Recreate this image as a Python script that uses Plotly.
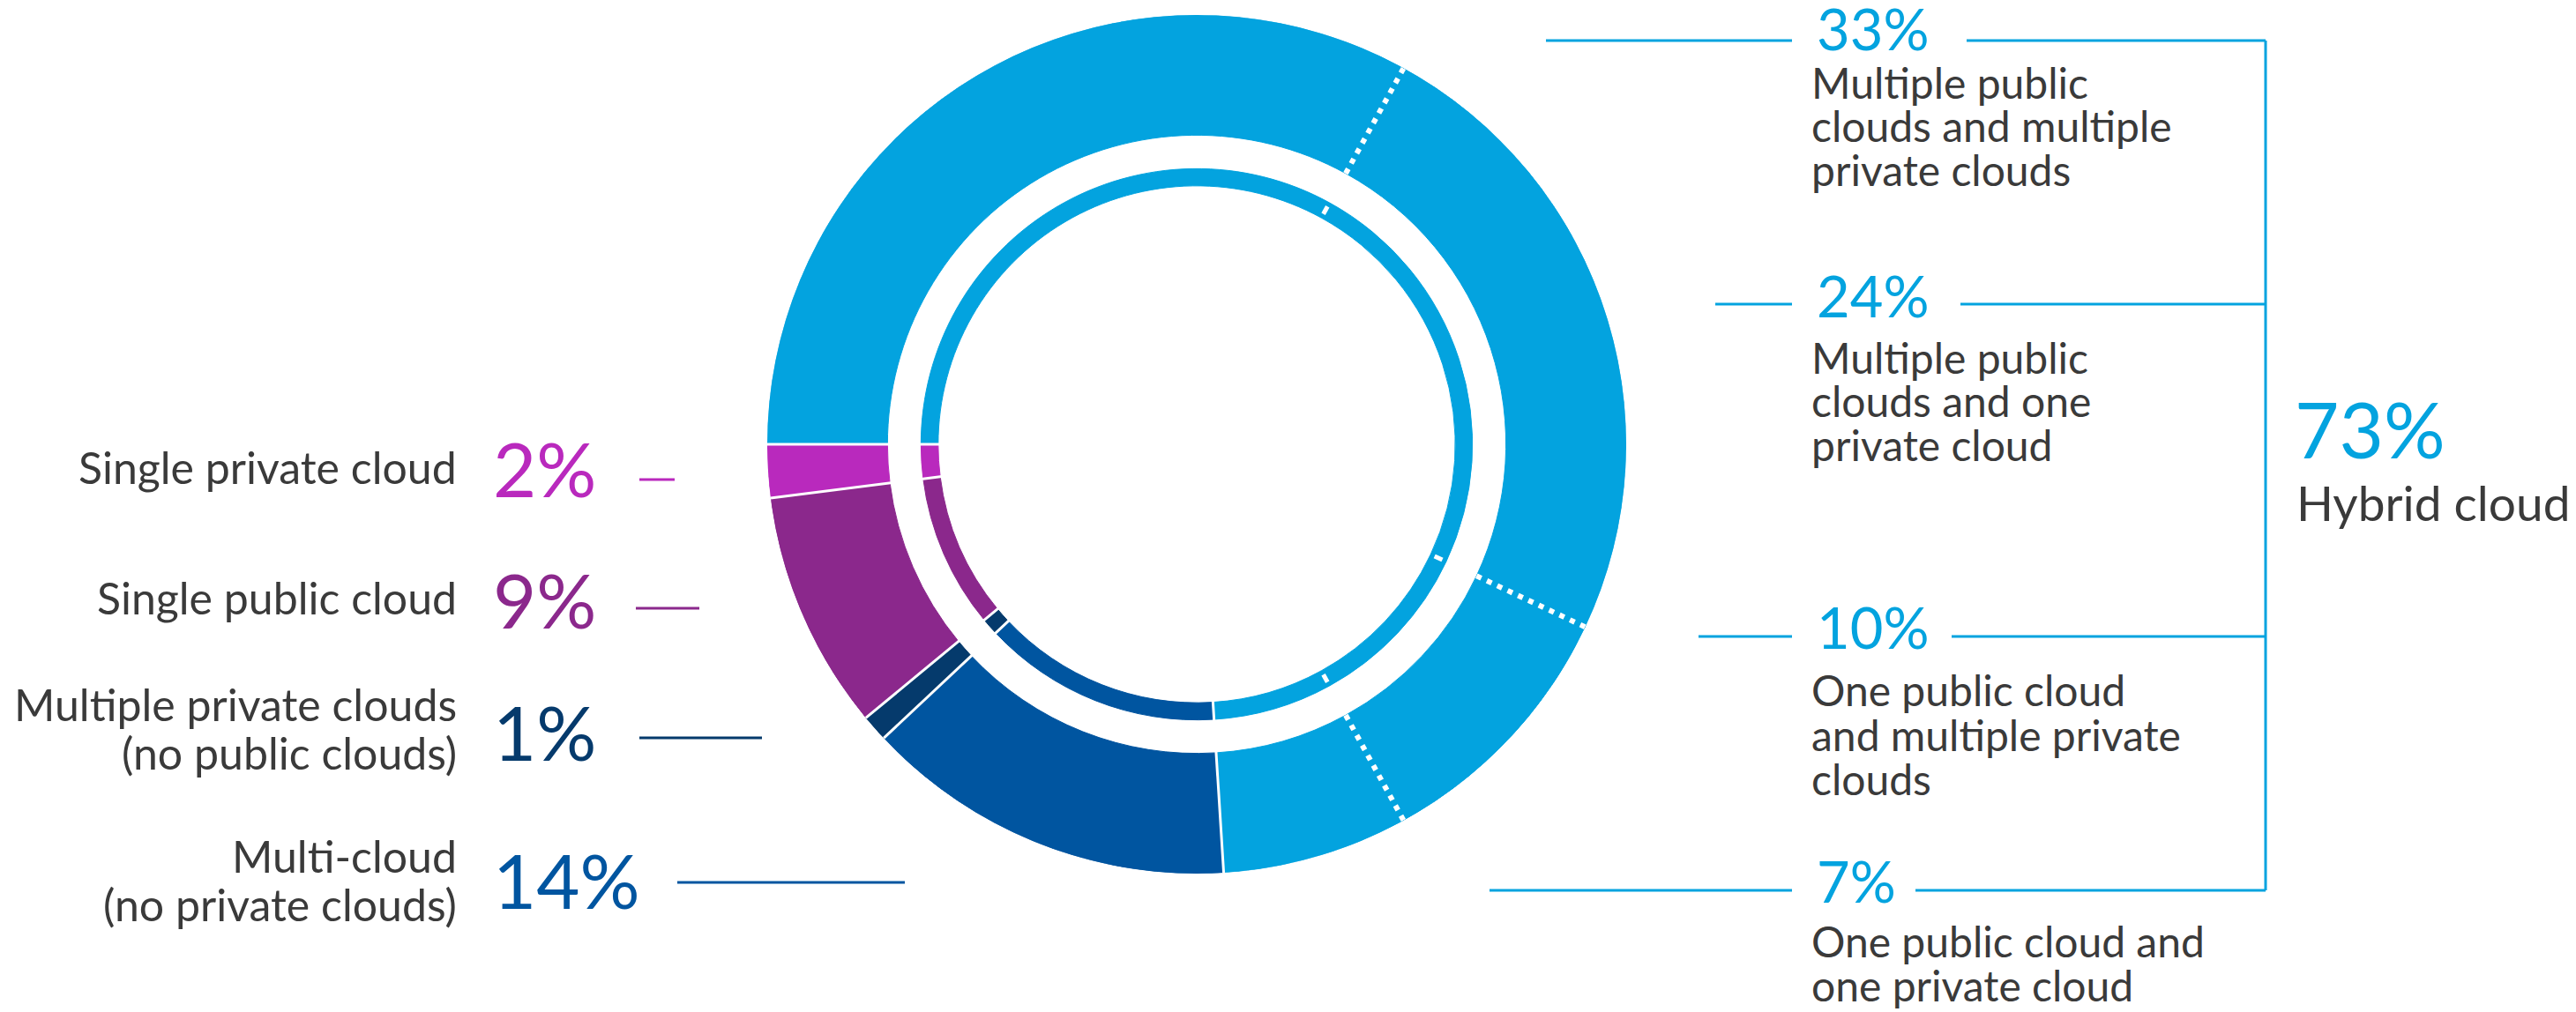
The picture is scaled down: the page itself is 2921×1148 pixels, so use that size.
import plotly.graph_objects as go

W, H = 2921, 1148

# slices clockwise from 9 o'clock
categories = [
    "Multiple public clouds and multiple private clouds",
    "Multiple public clouds and one private cloud",
    "One public cloud and multiple private clouds",
    "One public cloud and one private cloud",
    "Multi-cloud (no private clouds)",
    "Multiple private clouds (no public clouds)",
    "Single public cloud",
    "Single private cloud",
]
values = [33, 24, 10, 7, 14, 1, 9, 2]
colors = ["#03a3df", "#03a3df", "#03a3df", "#03a3df",
          "#0055a0", "#053a6c", "#8b288c", "#b929bd"]
hybrid = [True, True, True, True, False, False, False, False]

hybrid_total = "73%"
hybrid_label = "Hybrid cloud"

right_lines = [
    ["Multiple public", "clouds and multiple", "private clouds"],
    ["Multiple public", "clouds and one", "private cloud"],
    ["One public cloud", "and multiple private", "clouds"],
    ["One public cloud and", "one private cloud"],
]
left_lines = {
    "Single private cloud": ["Single private cloud"],
    "Single public cloud": ["Single public cloud"],
    "Multiple private clouds (no public clouds)": ["Multiple private clouds", "(no public clouds)"],
    "Multi-cloud (no private clouds)": ["Multi-cloud", "(no private clouds)"],
}

BLUE = "#03a3df"
GREY = "#3a3a3a"
FONT = "Lato"


def X(p):
    return p / W


def Y(p):
    return 1 - p / H


# angles
deg = 360.0 / sum(values)
starts, centers, widths = [], [], []
cum = 0
for v in values:
    starts.append(cum * deg)
    centers.append((cum + v / 2) * deg)
    widths.append(v * deg)
    cum += v

fig = go.Figure()

# outer ring and thin inner ring
for base, thick in [(0.72, 0.28), (0.602, 0.04)]:
    fig.add_trace(go.Barpolar(
        theta=centers, width=widths, r=[thick] * len(values), base=[base] * len(values),
        marker=dict(color=colors, line=dict(color=colors, width=1)),
        text=categories, hoverinfo="text",
    ))

# separators: solid between groups, dotted inside the hybrid block
solid = [starts[0]] + [starts[i] for i in range(1, len(values)) if not (hybrid[i] and hybrid[i - 1])]
dotted = [starts[i] for i in range(1, len(values)) if hybrid[i] and hybrid[i - 1]]


def spokes(angles, r0, r1):
    rr, tt = [], []
    for a in angles:
        rr += [r0, r1, None]
        tt += [a, a, None]
    return rr, tt


for r0, r1 in [(0.70, 1.0), (0.59, 0.655)]:
    rr, tt = spokes(solid, r0, r1)
    fig.add_trace(go.Scatterpolar(r=rr, theta=tt, mode="lines",
                                  line=dict(color="white", width=3), hoverinfo="skip"))

rr, tt = spokes(dotted, 0.72, 1.0)
fig.add_trace(go.Scatterpolar(r=rr, theta=tt, mode="lines",
                              line=dict(color="white", width=6, dash="6px,7px"), hoverinfo="skip"))
rr, tt = spokes(dotted, 0.612, 0.632)
fig.add_trace(go.Scatterpolar(r=rr, theta=tt, mode="lines",
                              line=dict(color="white", width=5), hoverinfo="skip"))

annotations = []
shapes = []


def text(x, y, s, size, color, xanchor="left"):
    annotations.append(dict(x=X(x), y=Y(y), xref="paper", yref="paper", text=s,
                            showarrow=False, xanchor=xanchor, yanchor="middle",
                            font=dict(family=FONT, size=size, color=color)))


def hline(x0, x1, y, color, width=3):
    shapes.append(dict(type="line", xref="paper", yref="paper",
                       x0=X(x0), x1=X(x1), y0=Y(y), y1=Y(y),
                       line=dict(color=color, width=width)))


# right side (hybrid)
r_pct_y = [24, 327, 703, 991]
r_line_y = [38, 337, 714, 1002]
r_left_x0 = [1745, 1937, 1918, 1681]
r_right_x0 = [2222, 2215, 2205, 2164]
r_desc_y = [85, 397, 775, 1059]
bracket_x = 2561
for i in range(4):
    text(2050, r_pct_y[i], f"{values[i]}%", 65, BLUE)
    hline(r_left_x0[i], 2024, r_line_y[i], BLUE)
    hline(r_right_x0[i], bracket_x, r_line_y[i], BLUE)
    for j, s in enumerate(right_lines[i]):
        text(2044, r_desc_y[i] + j * 50, s, 48, GREY)
shapes.append(dict(type="line", xref="paper", yref="paper",
                   x0=X(bracket_x), x1=X(bracket_x), y0=Y(r_line_y[0]), y1=Y(r_line_y[-1]),
                   line=dict(color=BLUE, width=3)))
text(2592, 479, hybrid_total, 87, BLUE)
text(2594, 562, hybrid_label, 55, GREY)

# left side, top to bottom
left_order = [7, 6, 5, 4]
l_pct_y = [523, 672, 822, 990]
l_line = [(717, 757, 536), (713, 785, 682), (717, 856, 829), (760, 1018, 993)]
l_desc_y = [[522], [670], [791, 846], [963, 1018]]
for k, i in enumerate(left_order):
    text(549, l_pct_y[k], f"{values[i]}%", 85, colors[i])
    x0, x1, yy = l_line[k]
    hline(x0, x1, yy, colors[i])
    for j, s in enumerate(left_lines[categories[i]]):
        text(512, l_desc_y[k][j], s, 50, GREY, xanchor="right")

cx, cy, R = 1349, 496, 487
fig.update_layout(
    width=W, height=H,
    margin=dict(l=0, r=0, t=0, b=0),
    paper_bgcolor="white",
    showlegend=False,
    annotations=annotations,
    shapes=shapes,
    polar=dict(
        domain=dict(x=[X(cx - R), X(cx + R)], y=[Y(cy + R), Y(cy - R)]),
        bgcolor="white",
        radialaxis=dict(range=[0, 1], visible=False, showgrid=False),
        angularaxis=dict(rotation=180, direction="clockwise", visible=False, showgrid=False),
    ),
)

fig.write_html("out.html")
